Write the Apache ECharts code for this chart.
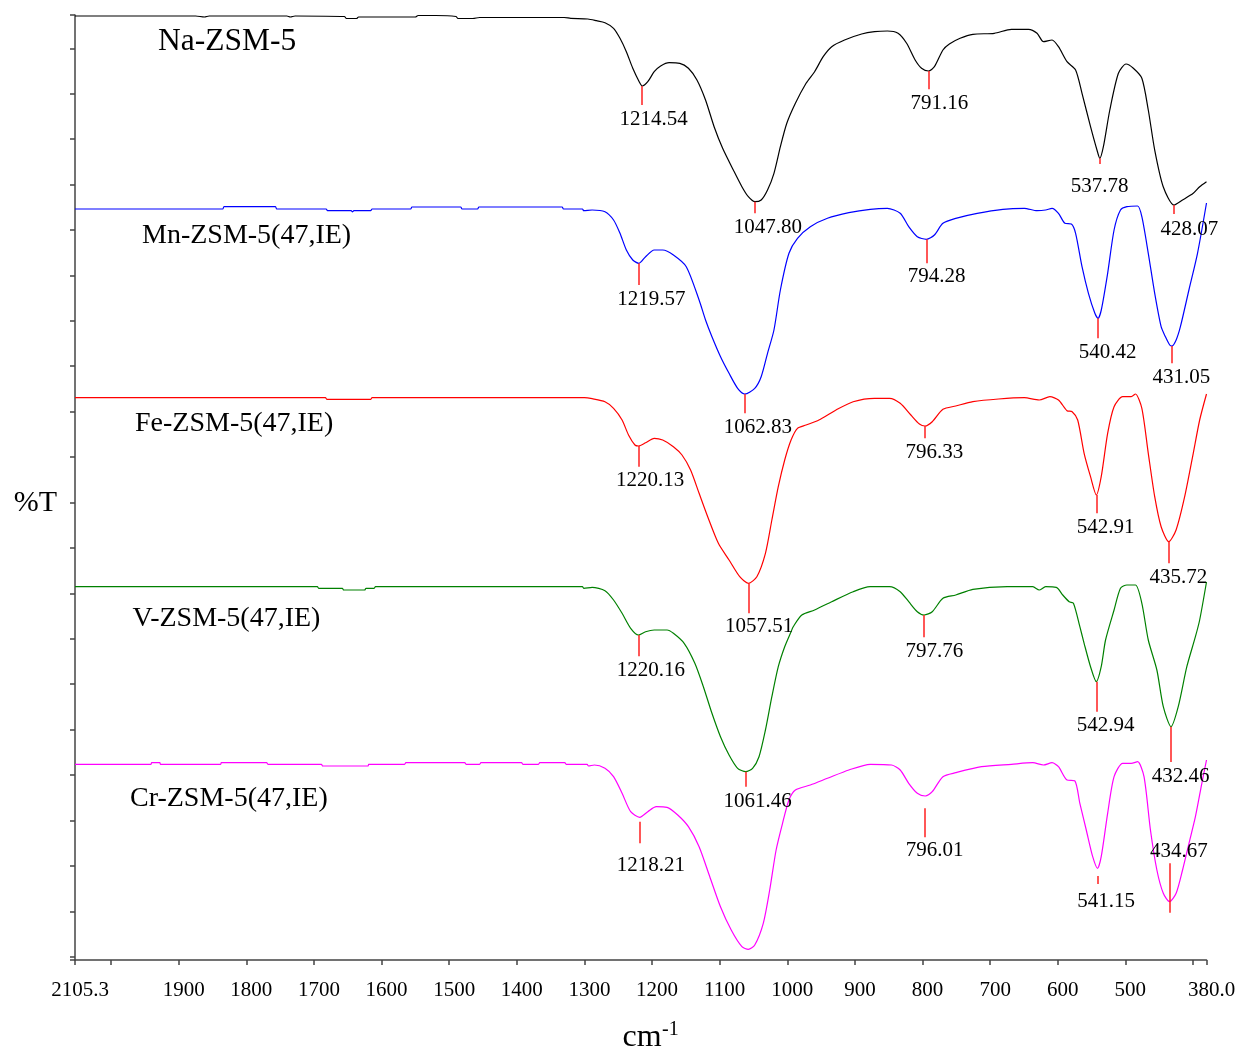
<!DOCTYPE html>
<html>
<head>
<meta charset="utf-8">
<script src="https://cdn.jsdelivr.net/npm/echarts@6/dist/echarts.min.js"></script>
<style>
  html, body { margin: 0; padding: 0; background: #ffffff; }
  #chart { width: 1242px; height: 1053px; }
</style>
</head>
<body>
<div id="chart"></div>
<script>
// FT-IR transmission spectra, stacked (wavenumber in cm-1, transmittance in arbitrary stacked units)

const wavenumberTicks = [2053.4, 2000, 1900, 1800, 1700, 1600, 1500, 1400, 1300, 1200, 1100, 1000, 900, 800, 700, 600, 500, 400, 380];
const wavenumberLabelValues = [2053.4, 1900, 1800, 1700, 1600, 1500, 1400, 1300, 1200, 1100, 1000, 900, 800, 700, 600, 500, 380];
const wavenumberLabels = ['2105.3', '1900', '1800', '1700', '1600', '1500', '1400', '1300', '1200', '1100', '1000', '900', '800', '700', '600', '500', '380.0'];

const seriesNames = ['Na-ZSM-5', 'Mn-ZSM-5(47,IE)', 'Fe-ZSM-5(47,IE)', 'V-ZSM-5(47,IE)', 'Cr-ZSM-5(47,IE)'];

const naZsm5 = [
  [2053.4,944],[1875,944],[1862,943],[1855,944],[1740,944],[1735,943],[1728,944],[1655,943.5],[1652,941.5],[1637,941.5],[1634,943],[1550,943],[1546,944.5],[1520,944.5],[1490,943.5],[1487,941.5],[1465,941.5],[1455,942.5],[1330,942.5],
  [1320.2,941.7],[1294.9,941],[1282.2,939.3],[1269.6,937.3],[1256.9,931.7],[1247.4,921.7],[1238,908.3],[1228.5,891.7],[1219,878.3],[1214.54,874],[1206.3,878.3],[1196.8,888.3],[1187.3,894],[1174.7,897.3],[1158.9,896.7],[1146.2,891.7],[1133.6,880],[1120.9,860],[1108.2,833.3],[1095.6,811.7],[1079.8,790],[1067.1,773.3],[1057.6,763.3],[1047.8,758.3],[1038.6,760],[1029.2,770],[1019.7,786.7],[1010.2,813.3],[1000.7,836.7],[988,856.7],[972.2,876.7],[959.6,888.3],[946.9,903.3],[934.3,913.3],[915.3,920],[890,926],[871,928.3],[852,929],[836.2,926.7],[823.5,916.7],[810.9,900],[801.4,891.7],[791.16,889],[782.4,893.3],[769.8,910],[760.3,916],[744.4,921.7],[725.5,925.7],[693.8,926.7],[668.5,930.7],[643.2,930.7],[630.6,926.7],[621.1,918.3],[608.4,920],[598.9,913.3],[586.3,898.3],[573.6,890],[564.1,866.7],[551.5,833.3],[542,810],[537.78,801.7],[532.5,813.3],[523,850],[510.3,886.7],[499,896],[488.2,891.7],[475.6,881.7],[466.1,850],[456.6,810],[444,773.3],[428.07,755],[415.4,760],[399.6,766.7],[390.1,773.3],[380,778.3]
];

const mnZsm5 = [
  [2053.4,751],[1835,751],[1833,753.3],[1757,753.3],[1755,751],[1682,751],[1680,749.3],[1645,749.3],[1643,748],[1641,749.3],[1616,749.3],[1614,751],[1557,751],[1555,753],[1483,753],[1481,751],[1458,751],[1456,753],[1333,753],[1331,751],[1303,751],[1301,749.3],
  [1288.6,750],[1269.6,748.3],[1256.9,740],[1247.4,726.7],[1238,710],[1228.5,700],[1219.57,696.7],[1209.5,703.3],[1196.8,710],[1184.2,710],[1168.4,705],[1149.4,693.3],[1130.4,660],[1120.9,640],[1111.4,623.3],[1098.7,603.3],[1086.1,586.7],[1073.4,571.7],[1062.83,566],[1048.1,571.7],[1038.6,583.3],[1029.2,606.7],[1019.7,630],[1010.2,670],[997.5,706.7],[984.9,721.7],[965.9,733.3],[940.6,741.7],[908.9,747.3],[877.3,750.7],[852,751.7],[833,746.7],[820.4,733.3],[807.7,723.3],[794.28,720.7],[782.4,725],[769.8,736.7],[750.8,741.7],[719.1,746.7],[681.2,750.7],[649.5,751.7],[630.6,749.3],[617.9,750],[608.4,751.7],[598.9,746.7],[589.4,736.7],[579.9,736],[573.6,726.7],[564.1,693.3],[554.6,666.7],[545.1,646.7],[540.42,641.7],[535.6,650],[526.2,686.7],[516.7,730],[507.2,750],[497.7,753.3],[481.9,754],[475.6,743.3],[466.1,706.7],[456.6,666.7],[447.1,633.3],[440.8,623.3],[434.4,615],[431.05,614],[424.9,620],[418.6,633.3],[406,670],[393.3,706.7],[380,757]
];

const feZsm5 = [
  [2053.4,562.3],[1683,562.3],[1681,560.7],[1616,560.7],[1614,562.3],[1300,562.3],
  [1288.6,561.3],[1269.6,558.3],[1256.9,551.7],[1244.3,540],[1234.8,525],[1225.3,515],[1220.13,514],[1209.5,517.3],[1196.8,521.7],[1184.2,520],[1168.4,513.3],[1155.7,505],[1143,490],[1130.4,466.7],[1117.7,443.3],[1101.9,416.7],[1086.1,400],[1070.3,383.3],[1057.51,376.7],[1045,383.3],[1032.3,406.7],[1022.8,440],[1013.3,473.3],[1003.8,500],[994.4,520],[984.9,531.7],[972.2,535],[953.2,540],[927.9,550],[902.6,558.3],[871,561.7],[848.8,561.7],[833,556.7],[817.2,545],[804.6,536],[796.33,534],[785.6,538.3],[769.8,550.7],[750.8,554],[725.5,558.3],[687.5,561],[649.5,562.3],[627.4,560],[611.6,563.3],[598.9,560],[586.3,549.3],[578.7,548.3],[570.5,540],[561,506.7],[551.5,483.3],[542.91,465],[535.7,483.3],[526.2,526.7],[516.7,553.3],[504,563.3],[491.4,563.3],[485.1,566],[475.6,551.7],[466.1,506.7],[456.6,463.3],[447.1,433.3],[435.72,418.3],[425,430],[412.3,463.3],[399.6,506.7],[390.1,540],[380,566]
];

const vZsm5 = [
  [2053.4,373.3],[1695,373.3],[1693,371.7],[1658,371.7],[1656,370],[1625,370],[1623,371.7],[1611,371.7],[1609,373.3],[1303,373.3],[1301,371.7],
  [1288.6,372.7],[1269.6,369.3],[1256.9,360],[1244.3,346.7],[1231.6,331.7],[1220.16,325],[1209.5,328.3],[1196.8,330],[1177.8,330],[1168.4,326.7],[1152.5,316.7],[1136.7,296.7],[1124.1,273.3],[1111.4,246.7],[1098.8,223.3],[1086.1,205],[1073.4,191.7],[1061.46,188.3],[1051.3,191.7],[1041.8,203.3],[1032.3,230],[1022.8,263.3],[1013.3,293.3],[1003.8,313.3],[994.4,328.3],[991.2,333.3],[978.5,345],[959.6,350],[934.3,358.3],[902.6,368.3],[877.3,373.3],[848.8,373.3],[833,368.3],[820.4,358.3],[807.7,348.3],[797.76,345],[785.6,348.3],[769.8,361.7],[750.8,365],[725.5,370.7],[674.8,373.3],[636.9,373.3],[627.4,370],[617.9,373.3],[602.1,372.7],[592.6,365],[583.1,358.3],[576.8,356.7],[567.3,333.3],[561,316.7],[551.5,293.3],[542.94,278.3],[535.7,293.3],[529.3,320],[516.7,350],[507.2,371.7],[497.7,375],[485.1,375],[475.6,356.7],[466.1,320],[453.4,290],[443.9,253.3],[432.46,233.3],[421.8,253.3],[409.1,293.3],[396.4,323.3],[390.1,340],[380,378]
];

const crZsm5 = [
  [2053.4,195.7],[1941,195.7],[1940,197.3],[1928,197.3],[1927,195.7],[1838,195.7],[1837,197.3],[1770,197.3],[1768,195.7],[1689,195.7],[1687,194],[1620,194],[1619,195.7],[1566,195.7],[1564,197.3],[1477,197.3],[1475,195.7],[1455,195.7],[1453,197.3],[1393,197.3],[1391,195.7],[1368,195.7],[1366,197.3],[1329,197.3],[1327,195.7],[1296,195.7],[1294,194],
  [1285.4,195],[1269.6,191.7],[1256.9,183.3],[1244.3,166.7],[1231.6,148.3],[1218.21,142.7],[1206.3,148.3],[1193.7,153.3],[1177.8,152.7],[1162,145],[1146.2,133.3],[1130.4,113.3],[1114.6,83.3],[1098.8,53.3],[1082.9,30],[1067.1,13.3],[1057.6,10.7],[1048.1,15],[1035.5,36.7],[1026,70],[1016.5,110],[1007,136.7],[997.5,160],[988,170],[965.9,175],[940.6,181.7],[908.9,190],[877.3,195.7],[845.7,195],[833,190],[820.4,176.7],[807.7,166.7],[796.01,164],[785.6,168.3],[769.8,183.3],[750.8,187.3],[712.8,193.3],[668.5,195.7],[636.9,197.3],[621.1,195],[608.4,197.3],[598.9,193.3],[586.3,180],[574.9,179.3],[567.3,156.7],[557.8,130],[548.3,103.3],[541.15,91.7],[535.7,103.3],[526.2,146.7],[516.7,183.3],[504,196.7],[491.4,196.7],[481.9,198.3],[472.4,183.3],[462.9,130],[453.4,90],[443.9,66.7],[434.67,58.3],[424.9,66.7],[415.4,90],[405.9,116.7],[396.4,143.3],[386.9,176.7],[380,200]
];

// Labelled band positions (cm-1)
const naPeaks = [1214.54, 1047.80, 791.16, 537.78, 428.07];
const mnPeaks = [1219.57, 1062.83, 794.28, 540.42, 431.05];
const fePeaks = [1220.13, 1057.51, 796.33, 542.91, 435.72];
const vPeaks  = [1220.16, 1061.46, 797.76, 542.94, 432.46];
const crPeaks = [1218.21, 796.01, 541.15, 434.67];

// Marker layout per band: [gap below curve, marker length, label gap, label x shift in px]
const naMarks = [[0,19,14.3,11.5],[0,11.6,14.4,12.8],[0,18.3,14,10.9],[0,5.7,22.7,-0.2],[0,9,15.3,15.4]];
const mnMarks = [[0,21.7,14.3,12.5],[0,19.3,14,13],[0,24,13.4,10.3],[0,20,14,9.5],[0,17.3,14,9.5]];
const feMarks = [[0,20.7,14,11.6],[0,30,12.7,10.7],[0,12.3,14,9.5],[0,18.3,14,9.4],[0,21.6,14,9.5]];
const vMarks  = [[0,21.3,14.4,12.4],[0,15,15,12],[0,22.3,14.4,10.3],[0,30,14,9.4],[0,35.4,14.6,9.5]];
const crMarks = [[4.4,21.6,21.7,11.2],[12.3,29,13.4,9.5],[7.7,8,17.7,8.6],[11,-49.4,-11.6,9.4]];

const SERIF = '"Liberation Serif", "Times New Roman", serif';

// Unlabelled %T ticks: both axis ends plus an evenly spaced set
const transmittanceTicks = [0, 945].concat(Array.from({ length: 21 }, (_, k) => 3.3 + 45.42 * k));

function spectrum(name, data, color, peaks, marks) {
  const valueAt = wn => data.find(p => p[0] === wn)[1];
  const lines = [];
  const labels = [];
  peaks.forEach((wn, i) => {
    const [gap, len, labelGap, dx] = marks[i];
    const top = valueAt(wn) - gap;
    const bottom = top - len;
    lines.push([{ coord: [wn, top] }, { coord: [wn, bottom] }]);
    labels.push({ name: wn.toFixed(2), coord: [wn, bottom - labelGap], label: { offset: [dx, 0] } });
  });
  return {
    type: 'line',
    name,
    data,
    showSymbol: false,
    symbol: 'none',
    smooth: 0.25,
    silent: true,
    animation: false,
    emphasis: { disabled: true },
    lineStyle: { color, width: 1.2 },
    itemStyle: { color },
    markLine: {
      silent: true,
      animation: false,
      symbol: ['none', 'none'],
      lineStyle: { color: '#ff1f1f', width: 1.5, type: 'solid' },
      label: { show: false },
      emphasis: { disabled: true },
      data: lines
    },
    markPoint: {
      silent: true,
      animation: false,
      symbol: 'circle',
      symbolSize: 1,
      itemStyle: { color: 'rgba(0,0,0,0)' },
      label: {
        show: true, position: 'inside', formatter: '{b}',
        color: '#000', fontFamily: SERIF, fontSize: 21
      },
      emphasis: { disabled: true },
      data: labels
    }
  };
}

function nameText(text, x, y, size) {
  return {
    type: 'text', x, y, silent: true,
    style: { text, fill: '#000', font: size + 'px ' + SERIF, align: 'left', verticalAlign: 'middle' }
  };
}

const chart = echarts.init(document.getElementById('chart'), null, { renderer: 'canvas' });

const axisColor = '#444';

chart.setOption({
  backgroundColor: '#ffffff',
  animation: false,
  grid: { left: 75, right: 35.5, top: 15, bottom: 93, containLabel: false, outerBoundsMode: 'none' },
  xAxis: {
    type: 'value',
    min: 380,
    max: 2053.4,
    inverse: true,
    axisLine: { show: true, lineStyle: { color: axisColor, width: 1.5 } },
    axisTick: { show: true, inside: false, length: 5, customValues: wavenumberTicks, lineStyle: { color: axisColor, width: 1.5 } },
    axisLabel: {
      show: true,
      customValues: wavenumberLabelValues,
      margin: 20,
      padding: [0, 0, 0, 10],
      color: '#000',
      fontFamily: SERIF,
      fontSize: 21,
      formatter: v => {
        let best = 0;
        wavenumberLabelValues.forEach((t, i) => {
          if (Math.abs(t - v) < Math.abs(wavenumberLabelValues[best] - v)) best = i;
        });
        return wavenumberLabels[best];
      }
    },
    splitLine: { show: false }
  },
  yAxis: {
    type: 'value',
    min: 0,
    max: 945,
    axisLine: { show: true, lineStyle: { color: axisColor, width: 1.5 } },
    axisTick: { show: true, inside: false, length: 5, customValues: transmittanceTicks, lineStyle: { color: axisColor, width: 1.5 } },
    axisLabel: { show: false },
    splitLine: { show: false }
  },
  series: [
    spectrum(seriesNames[0], naZsm5, '#000000', naPeaks, naMarks),
    spectrum(seriesNames[1], mnZsm5, '#0000ff', mnPeaks, mnMarks),
    spectrum(seriesNames[2], feZsm5, '#ff0000', fePeaks, feMarks),
    spectrum(seriesNames[3], vZsm5, '#008000', vPeaks, vMarks),
    spectrum(seriesNames[4], crZsm5, '#ff00ff', crPeaks, crMarks)
  ],
  graphic: [
    nameText(seriesNames[0], 158, 42, 31.5),
    nameText(seriesNames[1], 142, 236, 28),
    nameText(seriesNames[2], 135, 424, 28),
    nameText(seriesNames[3], 132.5, 619, 28),
    nameText(seriesNames[4], 130, 799, 28),
    {
      type: 'text', x: 35.5, y: 503, silent: true,
      style: { text: '%T', fill: '#000', font: '30px ' + SERIF, align: 'center', verticalAlign: 'middle' }
    },
    {
      type: 'text', x: 622.5, y: 1038, silent: true,
      style: { text: 'cm', fill: '#000', font: '32px ' + SERIF, align: 'left', verticalAlign: 'middle' }
    },
    {
      type: 'text', x: 662, y: 1030, silent: true,
      style: { text: '-1', fill: '#000', font: '20px ' + SERIF, align: 'left', verticalAlign: 'middle' }
    }
  ]
});
</script>
</body>
</html>
